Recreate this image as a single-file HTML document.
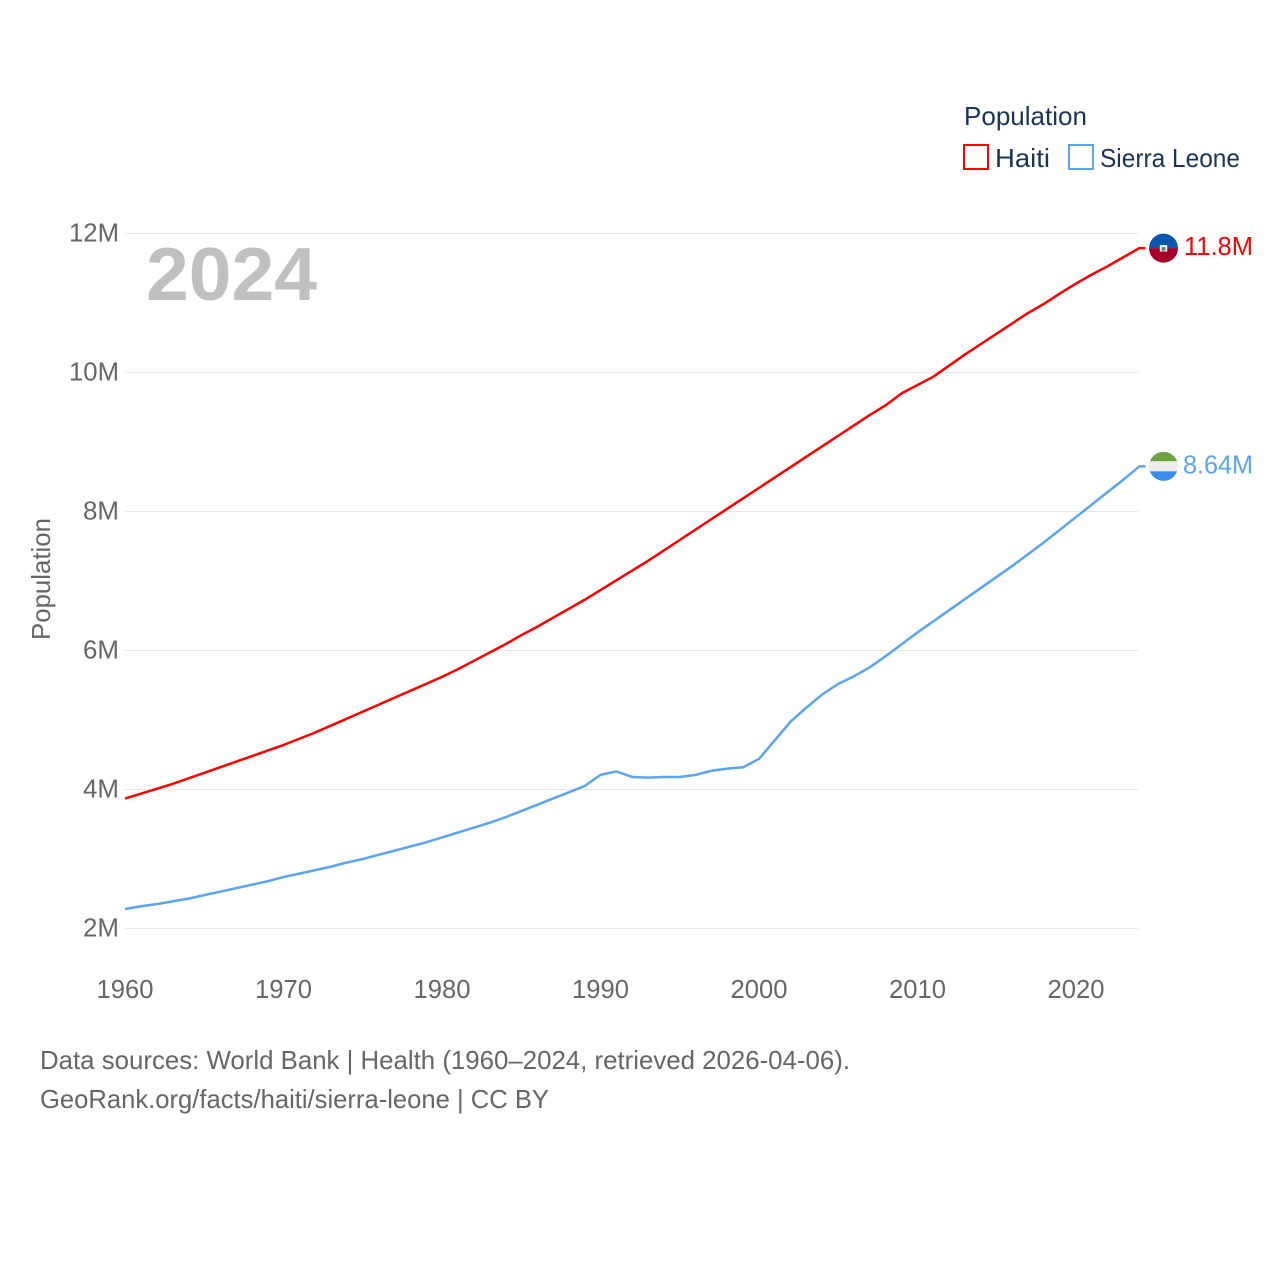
<!DOCTYPE html>
<html lang="en">
<head>
<meta charset="utf-8">
<title>Population: Haiti and Sierra Leone</title>
<style>
html,body{margin:0;padding:0;background:#fff;}
svg{display:block;font-family:"Liberation Sans",sans-serif;}
</style>
</head>
<body>
<svg id="chart" xmlns="http://www.w3.org/2000/svg" width="1280" height="1280" viewBox="0 0 1280 1280">
  <defs>
    <clipPath id="clip-haiti"><circle cx="0" cy="0" r="14.5"/></clipPath>
    <clipPath id="clip-sl"><circle cx="0" cy="0" r="14.5"/></clipPath>
  </defs>
  <rect width="1280" height="1280" fill="#fff"/>
  <g id="grid"></g>
  <g id="yticks"></g>
  <g id="xticks"></g>
  <text x="146" y="300" font-size="75" font-weight="700" fill="#c0c0c0" textLength="171" lengthAdjust="spacingAndGlyphs">2024</text>
  <text transform="translate(50,640) rotate(-90)" font-size="26" fill="#666" textLength="122" lengthAdjust="spacingAndGlyphs">Population</text>
  <g id="series"></g>
  <g id="haiti-flag">
    <g clip-path="url(#clip-haiti)">
      <rect x="-15" y="-15" width="30" height="15" fill="#0b57ad"/>
      <rect x="-15" y="0" width="30" height="15" fill="#a6002a"/>
      <rect x="-3.7" y="-3" width="7.4" height="6.4" fill="#f2f2f2"/>
      <rect x="-1.8" y="-1" width="3.6" height="3.6" fill="#4f8a6a"/>
    </g>
  </g>
  <g id="sl-flag">
    <g clip-path="url(#clip-sl)">
      <rect x="-15" y="-15" width="30" height="10" fill="#6ba140"/>
      <rect x="-15" y="-5" width="30" height="10" fill="#ededed"/>
      <rect x="-15" y="5" width="30" height="10" fill="#3a8dea"/>
    </g>
  </g>
  <text id="haiti-value" x="1184" font-size="26" fill="#ff0000" textLength="69" lengthAdjust="spacingAndGlyphs"></text>
  <text id="sl-value" x="1183" font-size="26" fill="#5ba4ee" textLength="70" lengthAdjust="spacingAndGlyphs"></text>

  <g>
    <text x="964" y="125" font-size="26" fill="#1b3358" textLength="123" lengthAdjust="spacingAndGlyphs">Population</text>
    <g>
      <rect x="964" y="145" width="24" height="24" fill="#fff" stroke="#ff0000" stroke-width="2"/>
      <text x="995" y="167" font-size="26" fill="#1b3358" textLength="55" lengthAdjust="spacingAndGlyphs">Haiti</text>
    </g>
    <g>
      <rect x="1069" y="145" width="24" height="24" fill="#fff" stroke="#5ba4ee" stroke-width="2"/>
      <text x="1100" y="167" font-size="26" fill="#1b3358" textLength="140" lengthAdjust="spacingAndGlyphs">Sierra Leone</text>
    </g>
  </g>

  <text x="40" y="1069" font-size="26" fill="#666" textLength="810" lengthAdjust="spacingAndGlyphs">Data sources: World Bank | Health (1960–2024, retrieved 2026-04-06).</text>
  <text x="40" y="1108" font-size="26" fill="#666" textLength="509" lengthAdjust="spacingAndGlyphs">GeoRank.org/facts/haiti/sierra-leone | CC BY</text>
</svg>
<script>
const years = [1960,1961,1962,1963,1964,1965,1966,1967,1968,1969,1970,1971,1972,1973,1974,1975,1976,1977,1978,1979,1980,1981,1982,1983,1984,1985,1986,1987,1988,1989,1990,1991,1992,1993,1994,1995,1996,1997,1998,1999,2000,2001,2002,2003,2004,2005,2006,2007,2008,2009,2010,2011,2012,2013,2014,2015,2016,2017,2018,2019,2020,2021,2022,2023,2024];
const haitiValues = [3.87,3.94,4.01,4.08,4.16,4.24,4.32,4.40,4.48,4.56,4.64,4.73,4.82,4.92,5.02,5.12,5.22,5.32,5.42,5.52,5.62,5.73,5.85,5.97,6.09,6.22,6.34,6.47,6.60,6.73,6.87,7.01,7.15,7.29,7.44,7.59,7.74,7.89,8.04,8.19,8.34,8.49,8.64,8.79,8.94,9.09,9.24,9.39,9.53,9.70,9.82,9.94,10.10,10.26,10.41,10.56,10.71,10.86,10.99,11.14,11.28,11.41,11.53,11.66,11.79];
const sierraLeoneValues = [2.28,2.32,2.35,2.39,2.43,2.48,2.53,2.58,2.63,2.68,2.74,2.79,2.84,2.89,2.95,3.00,3.06,3.12,3.18,3.24,3.31,3.38,3.45,3.52,3.60,3.69,3.78,3.87,3.96,4.05,4.21,4.26,4.18,4.17,4.18,4.18,4.21,4.27,4.30,4.32,4.44,4.71,4.98,5.18,5.37,5.52,5.63,5.76,5.92,6.09,6.26,6.42,6.58,6.74,6.90,7.06,7.22,7.39,7.56,7.74,7.92,8.10,8.28,8.46,8.65];
const yTickValues = [2,4,6,8,10,12];
const yTickLabels = ["2M","4M","6M","8M","10M","12M"];
const xTickValues = [1960,1970,1980,1990,2000,2010,2020];
const xTickLabels = ["1960","1970","1980","1990","2000","2010","2020"];
const endLabels = ["11.8M","8.64M"];

const NS = 'http://www.w3.org/2000/svg';
function xScale(year){ return 125 + (year - 1960) * (1139.4 - 125) / 64; }
function yScale(value){ return 928.5 - (value - 2) * 69.5; }

const grid = document.getElementById('grid');
const yticks = document.getElementById('yticks');
const xticks = document.getElementById('xticks');
const seriesGroup = document.getElementById('series');

yTickValues.forEach(function(v, i){
  const line = document.createElementNS(NS, 'line');
  
  
  line.setAttribute('x1', 125);
  line.setAttribute('x2', 1138);
  line.setAttribute('y1', yScale(v));
  line.setAttribute('y2', yScale(v));
  line.setAttribute('stroke', '#e8e8e8');
  line.setAttribute('stroke-width', '1');
  grid.appendChild(line);
  const t = document.createElementNS(NS, 'text');
  
  
  t.setAttribute('x', 119);
  t.setAttribute('y', yScale(v) + 8);
  t.setAttribute('text-anchor', 'end');
  t.setAttribute('font-size', '26');
  t.setAttribute('fill', '#666');
  t.setAttribute('textLength', yTickLabels[i].length === 3 ? 50 : 36);
  t.setAttribute('lengthAdjust', 'spacingAndGlyphs');
  t.textContent = yTickLabels[i];
  yticks.appendChild(t);
});

xTickValues.forEach(function(v, i){
  const t = document.createElementNS(NS, 'text');
  
  
  t.setAttribute('x', xScale(v));
  t.setAttribute('y', 998);
  t.setAttribute('text-anchor', 'middle');
  t.setAttribute('font-size', '26');
  t.setAttribute('fill', '#666');
  t.setAttribute('textLength', 57);
  t.setAttribute('lengthAdjust', 'spacingAndGlyphs');
  t.textContent = xTickLabels[i];
  xticks.appendChild(t);
});

function drawSeries(values, color, name){
  const pts = values.map(function(v, i){ return xScale(years[i]).toFixed(2) + ',' + yScale(v).toFixed(2); });
  const last = values[values.length - 1];
  pts.push((xScale(years[years.length - 1]) + 6).toFixed(2) + ',' + yScale(last).toFixed(2));
  const line = document.createElementNS(NS, 'polyline');
  
  
  line.setAttribute('points', pts.join(' '));
  line.setAttribute('fill', 'none');
  line.setAttribute('stroke', color);
  line.setAttribute('stroke-width', '2.5');
  line.setAttribute('stroke-linejoin', 'round');
  seriesGroup.appendChild(line);
}
drawSeries(sierraLeoneValues, '#5ba4ee', 'sierra-leone-line');
drawSeries(haitiValues, '#ff0000', 'haiti-line');

const haitiEndY = yScale(haitiValues[haitiValues.length - 1]);
const slEndY = yScale(sierraLeoneValues[sierraLeoneValues.length - 1]);
document.getElementById('haiti-flag').setAttribute('transform', 'translate(1163.5,' + haitiEndY + ')');
document.getElementById('sl-flag').setAttribute('transform', 'translate(1163.5,' + slEndY + ')');
const hv = document.getElementById('haiti-value');
hv.setAttribute('y', haitiEndY + 7);
hv.textContent = endLabels[0];
const sv = document.getElementById('sl-value');
sv.setAttribute('y', slEndY + 7);
sv.textContent = endLabels[1];
</script>
</body>
</html>
